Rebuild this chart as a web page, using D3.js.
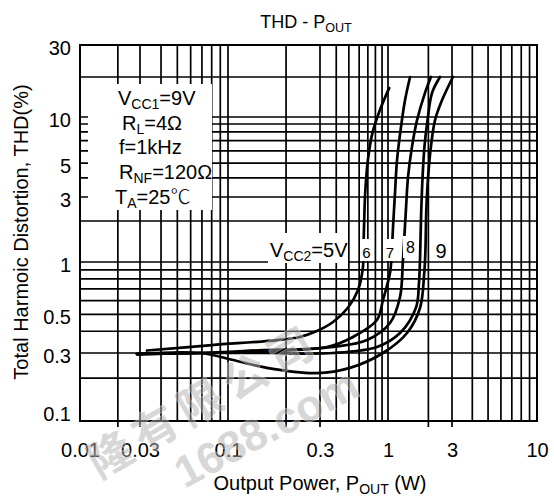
<!DOCTYPE html>
<html>
<head>
  <meta charset="utf-8">
  <title>THD - POUT</title>
  <script src="https://d3js.org/d3.v7.min.js"></script>
  <style>
    body { margin: 0; background: #fff; }
    text { font-family: "Liberation Sans", Arial, sans-serif; fill: #000; }
  </style>
</head>
<body>
<script>
const width = 554, height = 502;

// tick labels
const xTicks = [0.01, 0.03, 0.1, 0.3, 1, 3, 10];
const yTicks = [0.1, 0.3, 0.5, 1, 3, 5, 10, 30];

// Vcc2 curves: output power (W) and THD (%)
const vccLabels = ["5V", "6", "7", "8", "9"];
const p5   = [0.033, 0.080, 0.180, 0.236, 0.289, 0.378, 0.490, 0.588, 0.642, 0.648, 0.656, 0.668, 0.700, 0.760, 0.867, 1.02];
const thd5 = [0.31, 0.333, 0.356, 0.371, 0.401, 0.452, 0.544, 0.690, 0.936, 1.30, 2.00, 3.20, 5.20, 7.90, 11.3, 16.5];
const p6   = [0.0284, 0.068, 0.152, 0.340, 0.538, 0.822, 0.915, 1.035, 1.06, 1.09, 1.128, 1.167, 1.25, 1.34, 1.46];
const thd6 = [0.295, 0.30, 0.312, 0.325, 0.371, 0.464, 0.605, 0.865, 1.05, 1.80, 3.20, 5.20, 8.60, 13.4, 20];
const p7   = [0.0284, 0.068, 0.15, 0.378, 0.69, 1.035, 1.229, 1.29, 1.316, 1.36, 1.41, 1.51, 1.645, 1.887, 2.09];
const thd7 = [0.295, 0.30, 0.305, 0.325, 0.356, 0.446, 0.629, 1.0, 1.38, 2.4, 4.05, 6.4, 9.5, 15.2, 20];
const p8   = [0.0284, 0.068, 0.159, 0.378, 0.822, 1.229, 1.62, 1.70, 1.73, 1.745, 1.77, 1.81, 1.87, 1.97, 2.13, 2.44];
const thd8 = [0.295, 0.30, 0.30, 0.30, 0.325, 0.391, 0.55, 0.75, 1.0, 1.4, 2.4, 4.05, 6.4, 9.5, 15.2, 20];
const p9   = [0.0284, 0.068, 0.106, 0.159, 0.289, 0.51, 0.915, 1.386, 1.732, 1.86, 1.90, 1.93, 1.99, 2.09, 2.24, 2.53, 3.04];
const thd9 = [0.295, 0.30, 0.268, 0.236, 0.217, 0.236, 0.30, 0.391, 0.544, 0.85, 1.2, 2.4, 4.05, 6.4, 9.5, 13.4, 20];

const curves = [[p5, thd5], [p6, thd6], [p7, thd7], [p8, thd8], [p9, thd9]]
  .map(([p, t], i) => ({ vcc: vccLabels[i], pts: p.map((v, j) => [v, t[j]]) }));

const svg = d3.select("body").append("svg")
  .attr("width", width)
  .attr("height", height);

// the printed grid is not a clean log grid, so the log scales are pinned at the labelled values
const x = d3.scaleLog().domain(xTicks).range([80, 140, 228, 320, 388, 452, 537]);
const y = d3.scaleLog().domain([0.1, 0.3, 1, 3, 10, 20, 30]).range([421, 353, 262, 197, 117, 77, 45]);
const [x0, x1] = [x(0.01), x(10)];
const [y0, y1] = [y(0.1), y(30)];

const xGrid = [], yGrid = [];
[0.01, 0.1, 1].forEach(d => { for (let k = 1; k < 10; k++) xGrid.push(+(k * d).toPrecision(2)); });
[0.1, 1].forEach(d => { for (let k = 1; k < 10; k++) yGrid.push(+(k * d).toPrecision(2)); });
yGrid.push(10, 20);

const grid = svg.append("g").attr("stroke", "#000").attr("stroke-width", 1.7);
grid.selectAll(".gx").data(xGrid).enter().append("line")
  .attr("x1", d => x(d)).attr("x2", d => x(d))
  .attr("y1", y0).attr("y2", y1);
grid.selectAll(".gy").data(yGrid).enter().append("line")
  .attr("x1", x0).attr("x2", x1)
  .attr("y1", d => y(d)).attr("y2", d => y(d));
// short ticks under the frame
grid.selectAll(".tk").data([0.02, 0.03, 0.2, 0.3, 2, 3]).enter().append("line")
  .attr("x1", d => x(d)).attr("x2", d => x(d))
  .attr("y1", y0).attr("y2", y0 + 6);

function richText(g, px, py, parts, size, anchor) {
  const t = g.append("text")
    .attr("x", px).attr("y", py)
    .attr("font-size", size)
    .attr("text-anchor", anchor || "start");
  let shifted = false;
  parts.forEach(p => {
    const sub = typeof p !== "string";
    const s = sub ? p.sub : p;
    const ts = t.append("tspan").text(s).attr("font-size", sub ? size * 0.7 : size);
    if (sub && !shifted) { ts.attr("dy", size * 0.22); shifted = true; }
    if (!sub && shifted) { ts.attr("dy", -size * 0.22); shifted = false; }
  });
  return t;
}

// conditions box
const notes = svg.append("g");
notes.append("rect").attr("x", 88).attr("y", 84).attr("width", 124).attr("height", 126).attr("fill", "#fff");
richText(notes, 118, 105, ["V", { sub: "CC1" }, "=9V"], 20);
richText(notes, 122, 130, ["R", { sub: "L" }, "=4Ω"], 20);
richText(notes, 119, 154, ["f=1kHz"], 20);
richText(notes, 119, 179, ["R", { sub: "NF" }, "=120Ω"], 20);
const ta = richText(notes, 115, 204, ["T", { sub: "A" }, "=25"], 20);
ta.append("tspan").style("font-family", "'Noto Sans CJK SC'").style("font-weight", 300).text("℃");

const line = d3.line()
  .x(d => x(d[0]))
  .y(d => y(d[1]))
  .curve(d3.curveCatmullRom.alpha(0.5));

svg.append("g").selectAll("path").data(curves).enter().append("path")
  .attr("d", d => line(d.pts))
  .attr("fill", "none")
  .attr("stroke", "#000")
  .attr("stroke-width", 2.7)
  .attr("stroke-linecap", "round");

// curve labels
const tags = svg.append("g");
tags.append("rect").attr("x", 268).attr("y", 233).attr("width", 80).attr("height", 30).attr("fill", "#fff");
richText(tags, 270, 257, ["V", { sub: "CC2" }, "=" + vccLabels[0]], 20);
const tagBoxes = [
  { x: 360, w: 13, size: 15 },
  { x: 384, w: 12, size: 15 },
  { x: 403, w: 15, size: 16 },
  { x: 432, w: 18, size: 20 }
];
tagBoxes.forEach((b, i) => {
  const top = i === 2 ? 236 : 239;
  tags.append("rect").attr("x", b.x).attr("y", top).attr("width", b.w).attr("height", 22).attr("fill", "#fff");
  tags.append("text").attr("x", b.x + b.w / 2).attr("y", i === 2 ? 253 : 258)
    .attr("text-anchor", "middle").attr("font-size", b.size).text(vccLabels[i + 1]);
});

// frame
svg.append("rect")
  .attr("x", x0).attr("y", y1)
  .attr("width", x1 - x0).attr("height", y0 - y1)
  .attr("fill", "none").attr("stroke", "#000").attr("stroke-width", 2);

// axes (labels only, the grid is drawn above)
const xAxis = svg.append("g")
  .attr("transform", `translate(0,${y0})`)
  .call(d3.axisBottom(x).tickValues(xTicks).tickSize(0).tickPadding(22).tickFormat(d3.format("~g")));
const yAxis = svg.append("g")
  .attr("transform", `translate(${x0},0)`)
  .call(d3.axisLeft(y).tickValues(yTicks).tickSize(0).tickPadding(9).tickFormat(d3.format("~g")));
[xAxis, yAxis].forEach(a => {
  a.select(".domain").remove();
  a.selectAll("text").attr("font-size", 20).attr("fill", "#000");
  a.attr("font-family", null);
});
yAxis.selectAll("text").attr("dy", d => d === 0.1 ? "-0.05em" : "0.48em");

richText(svg, 306, 28, ["THD - P", { sub: "OUT" }], 18, "middle");
richText(svg, 320, 490, ["Output Power, P", { sub: "OUT" }, " (W)"], 20, "middle");
svg.append("text")
  .attr("transform", "translate(28,232) rotate(-90)")
  .attr("text-anchor", "middle")
  .attr("font-size", 20)
  .text("Total Harmoic Distortion, THD(%)");

// watermark
const wm = svg.append("g")
  .attr("opacity", 0.5)
  .attr("stroke", "#fff")
  .attr("stroke-width", 1.5)
  .style("paint-order", "stroke");
wm.append("text")
  .attr("transform", "translate(202,398) rotate(-30)")
  .attr("text-anchor", "middle")
  .attr("dominant-baseline", "central")
  .attr("font-size", 44)
  .attr("letter-spacing", 8)
  .style("font-family", "'Noto Sans CJK SC'")
  .style("font-weight", 700)
  .style("fill", "#b0b0b0")
  .text("隆有限公司");
wm.append("text")
  .attr("transform", "translate(266,428) rotate(-28)")
  .attr("text-anchor", "middle")
  .attr("dominant-baseline", "central")
  .attr("font-size", 44)
  .style("font-weight", 700)
  .style("fill", "#b0b0b0")
  .text("1688.com");
</script>
</body>
</html>
